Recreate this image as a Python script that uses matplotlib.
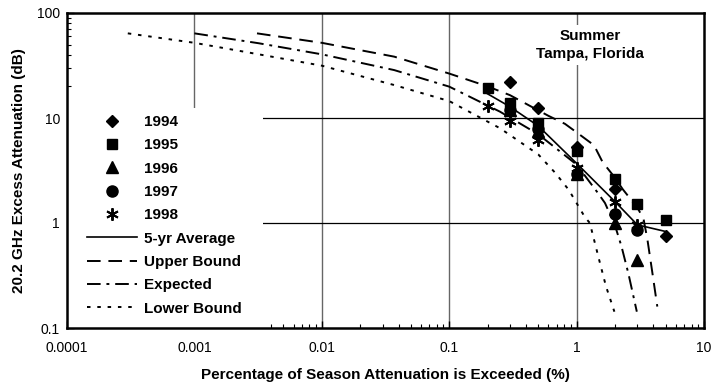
import matplotlib
matplotlib.use("Agg")
import matplotlib.pyplot as plt
from matplotlib.patches import Rectangle
from matplotlib.lines import Line2D

plt.rcParams['font.family'] = ['Liberation Sans', 'DejaVu Sans']

# ---- data ----
pct = [0.2, 0.3, 0.5, 1, 2, 3, 5]

x_1994 = [0.3, 0.5, 1, 2, 5]
y_1994 = [21.9, 12.5, 5.3, 2.1, 0.76]

x_1995 = [0.2, 0.3, 0.5, 1, 2, 3, 5]
y_1995 = [19.2, 13.8, 8.9, 4.9, 2.6, 1.53, 1.06]

x_1996 = [0.3, 0.5, 1, 2, 3]
y_1996 = [11.8, 7.6, 2.9, 1.0, 0.44]

x_1997 = [0.3, 0.5, 1, 2, 3]
y_1997 = [12.0, 7.8, 2.95, 1.22, 0.85]

x_1998 = [0.2, 0.3, 0.5, 1, 2, 3]
y_1998 = [13.0, 9.4, 6.2, 3.35, 1.6, 0.96]

avg_x = [0.2, 0.3, 0.5, 1, 2, 3, 5]
avg_y = [17.0, 12.8, 8.4, 3.7, 1.6, 0.96, 0.83]

upper_x = [0.0031, 0.01, 0.037, 0.1, 0.2, 0.3, 0.6, 0.81, 1.0, 1.37, 1.6, 2.0, 2.3, 3.0, 3.35, 3.6, 3.9, 4.3]
upper_y = [64, 52, 38.4, 26.5, 20, 16.5, 10.5, 8.8, 7.3, 5.5, 3.8, 2.7, 2.1, 1.4, 1.1, 0.69, 0.36, 0.16]

exp_x = [0.001, 0.0032, 0.01, 0.037, 0.1, 0.25, 0.5, 1.0, 1.47, 1.67, 2.0, 2.25, 2.55, 2.97]
exp_y = [64, 51.5, 40.4, 28.6, 19.9, 11.5, 7.0, 3.6, 1.93, 1.55, 0.95, 0.6, 0.33, 0.143]

low_x = [0.0003, 0.001, 0.0032, 0.01, 0.037, 0.1, 0.25, 0.34, 0.5, 0.68, 0.87, 1.16, 1.27, 1.5, 1.7, 1.98]
low_y = [64, 52, 40.4, 31.5, 20.6, 14.5, 8.0, 6.2, 4.5, 3.0, 2.06, 1.14, 1.0, 0.45, 0.25, 0.143]

xticks = [0.0001, 0.001, 0.01, 0.1, 1, 10]
xtick_labels = ['0.0001', '0.001', '0.01', '0.1', '1', '10']
yticks = [0.1, 1, 10, 100]
ytick_labels = ['0.1', '1', '10', '100']

# ---- figure ----
fig = plt.figure(figsize=(7.12, 3.89), dpi=100)
L, R, T, B = 67, 704, 13, 328
ax = fig.add_axes([L / 712, 1 - B / 389, (R - L) / 712, (B - T) / 389])
ax.set_xscale('log')
ax.set_yscale('log')
ax.set_xlim(1e-4, 10)
ax.set_ylim(0.1, 100)
ax.set_axisbelow(True)

# grid
for xv in [0.001, 0.01, 0.1, 1]:
    ax.axvline(xv, color='#666666', lw=1.0, zorder=0.5)
for yv in [1, 10]:
    ax.axhline(yv, color='black', lw=0.9, zorder=0.5)

# white legend background masking grid
ax.add_patch(Rectangle((0, 0), (263 - L) / (R - L), (B - 108) / (B - T),
                       transform=ax.transAxes, facecolor='white',
                       edgecolor='none', zorder=1))

lw = 1.4
ax.plot(upper_x, upper_y, color='black', lw=lw, dashes=(7, 4), zorder=2, label='Upper Bound')
ax.plot(exp_x, exp_y, color='black', lw=lw, dashes=(7, 3, 1.5, 3), zorder=2, label='Expected')
ax.plot(low_x, low_y, color='black', lw=lw, dashes=(1.8, 3.5), zorder=2, label='Lower Bound')
ax.plot(avg_x, avg_y, color='black', lw=1.2, zorder=2.5, label='5-yr Average')

mk = dict(color='black', linestyle='none', zorder=3)
ax.plot(x_1994, y_1994, marker='D', markersize=6.5, **mk)
ax.plot(x_1995, y_1995, marker='s', markersize=7.5, **mk)
ax.plot(x_1996, y_1996, marker='^', markersize=8, **mk)
ax.plot(x_1997, y_1997, marker='o', markersize=8, **mk)
ax.plot(x_1998, y_1998, marker=(6, 2, 0), markersize=9, markeredgewidth=1.4, **mk)

# axes styling
for s in ax.spines.values():
    s.set_linewidth(1.8)
ax.set_xticks(xticks)
ax.set_xticklabels(xtick_labels)
ax.set_yticks(yticks)
ax.set_yticklabels(ytick_labels)
ax.tick_params(which='major', direction='in', length=5, width=1, labelsize=10, pad=9)
ax.tick_params(which='minor', direction='in', length=3, width=0.8)
ax.tick_params(axis='y', which='both', left=True, right=False)
ax.tick_params(axis='x', which='both', bottom=True, top=False)
ax.tick_params(axis='y', which='major', pad=5)

ax.set_xlabel('Percentage of Season Attenuation is Exceeded (%)', fontsize=11,
              fontweight='bold', labelpad=10)
ax.set_ylabel('20.2 GHz Excess Attenuation (dB)', fontsize=11,
              fontweight='bold', labelpad=8)

ax.text((590 - L) / (R - L), 1 - (45 - T) / (B - T), 'Summer\nTampa, Florida',
        transform=ax.transAxes, ha='center', va='center', fontsize=11,
        fontweight='bold', linespacing=1.35, zorder=4,
        bbox=dict(facecolor='white', edgecolor='none', pad=3))

# legend
handles = [
    Line2D([], [], color='black', marker='D', markersize=6.5, linestyle='none'),
    Line2D([], [], color='black', marker='s', markersize=7.5, linestyle='none'),
    Line2D([], [], color='black', marker='^', markersize=8, linestyle='none'),
    Line2D([], [], color='black', marker='o', markersize=8, linestyle='none'),
    Line2D([], [], color='black', marker=(6, 2, 0), markersize=9, markeredgewidth=1.4, linestyle='none'),
    Line2D([], [], color='black', lw=1.2),
    Line2D([], [], color='black', lw=lw, dashes=(7, 4)),
    Line2D([], [], color='black', lw=lw, dashes=(7, 3, 1.5, 3)),
    Line2D([], [], color='black', lw=lw, dashes=(1.8, 3.5)),
]
labels = ['1994', '1995', '1996', '1997', '1998', '5-yr Average',
          'Upper Bound', 'Expected', 'Lower Bound']
leg = fig.legend(handles, labels, loc='upper left',
                 bbox_to_anchor=(87 / 712, 1 - 115 / 389),
                 frameon=False, borderpad=0, borderaxespad=0,
                 handlelength=3.3, handletextpad=0.45, labelspacing=0.61,
                 prop={'weight': 'bold', 'size': 11})
leg.set_zorder(5)

fig.savefig('out.png', dpi=100)
